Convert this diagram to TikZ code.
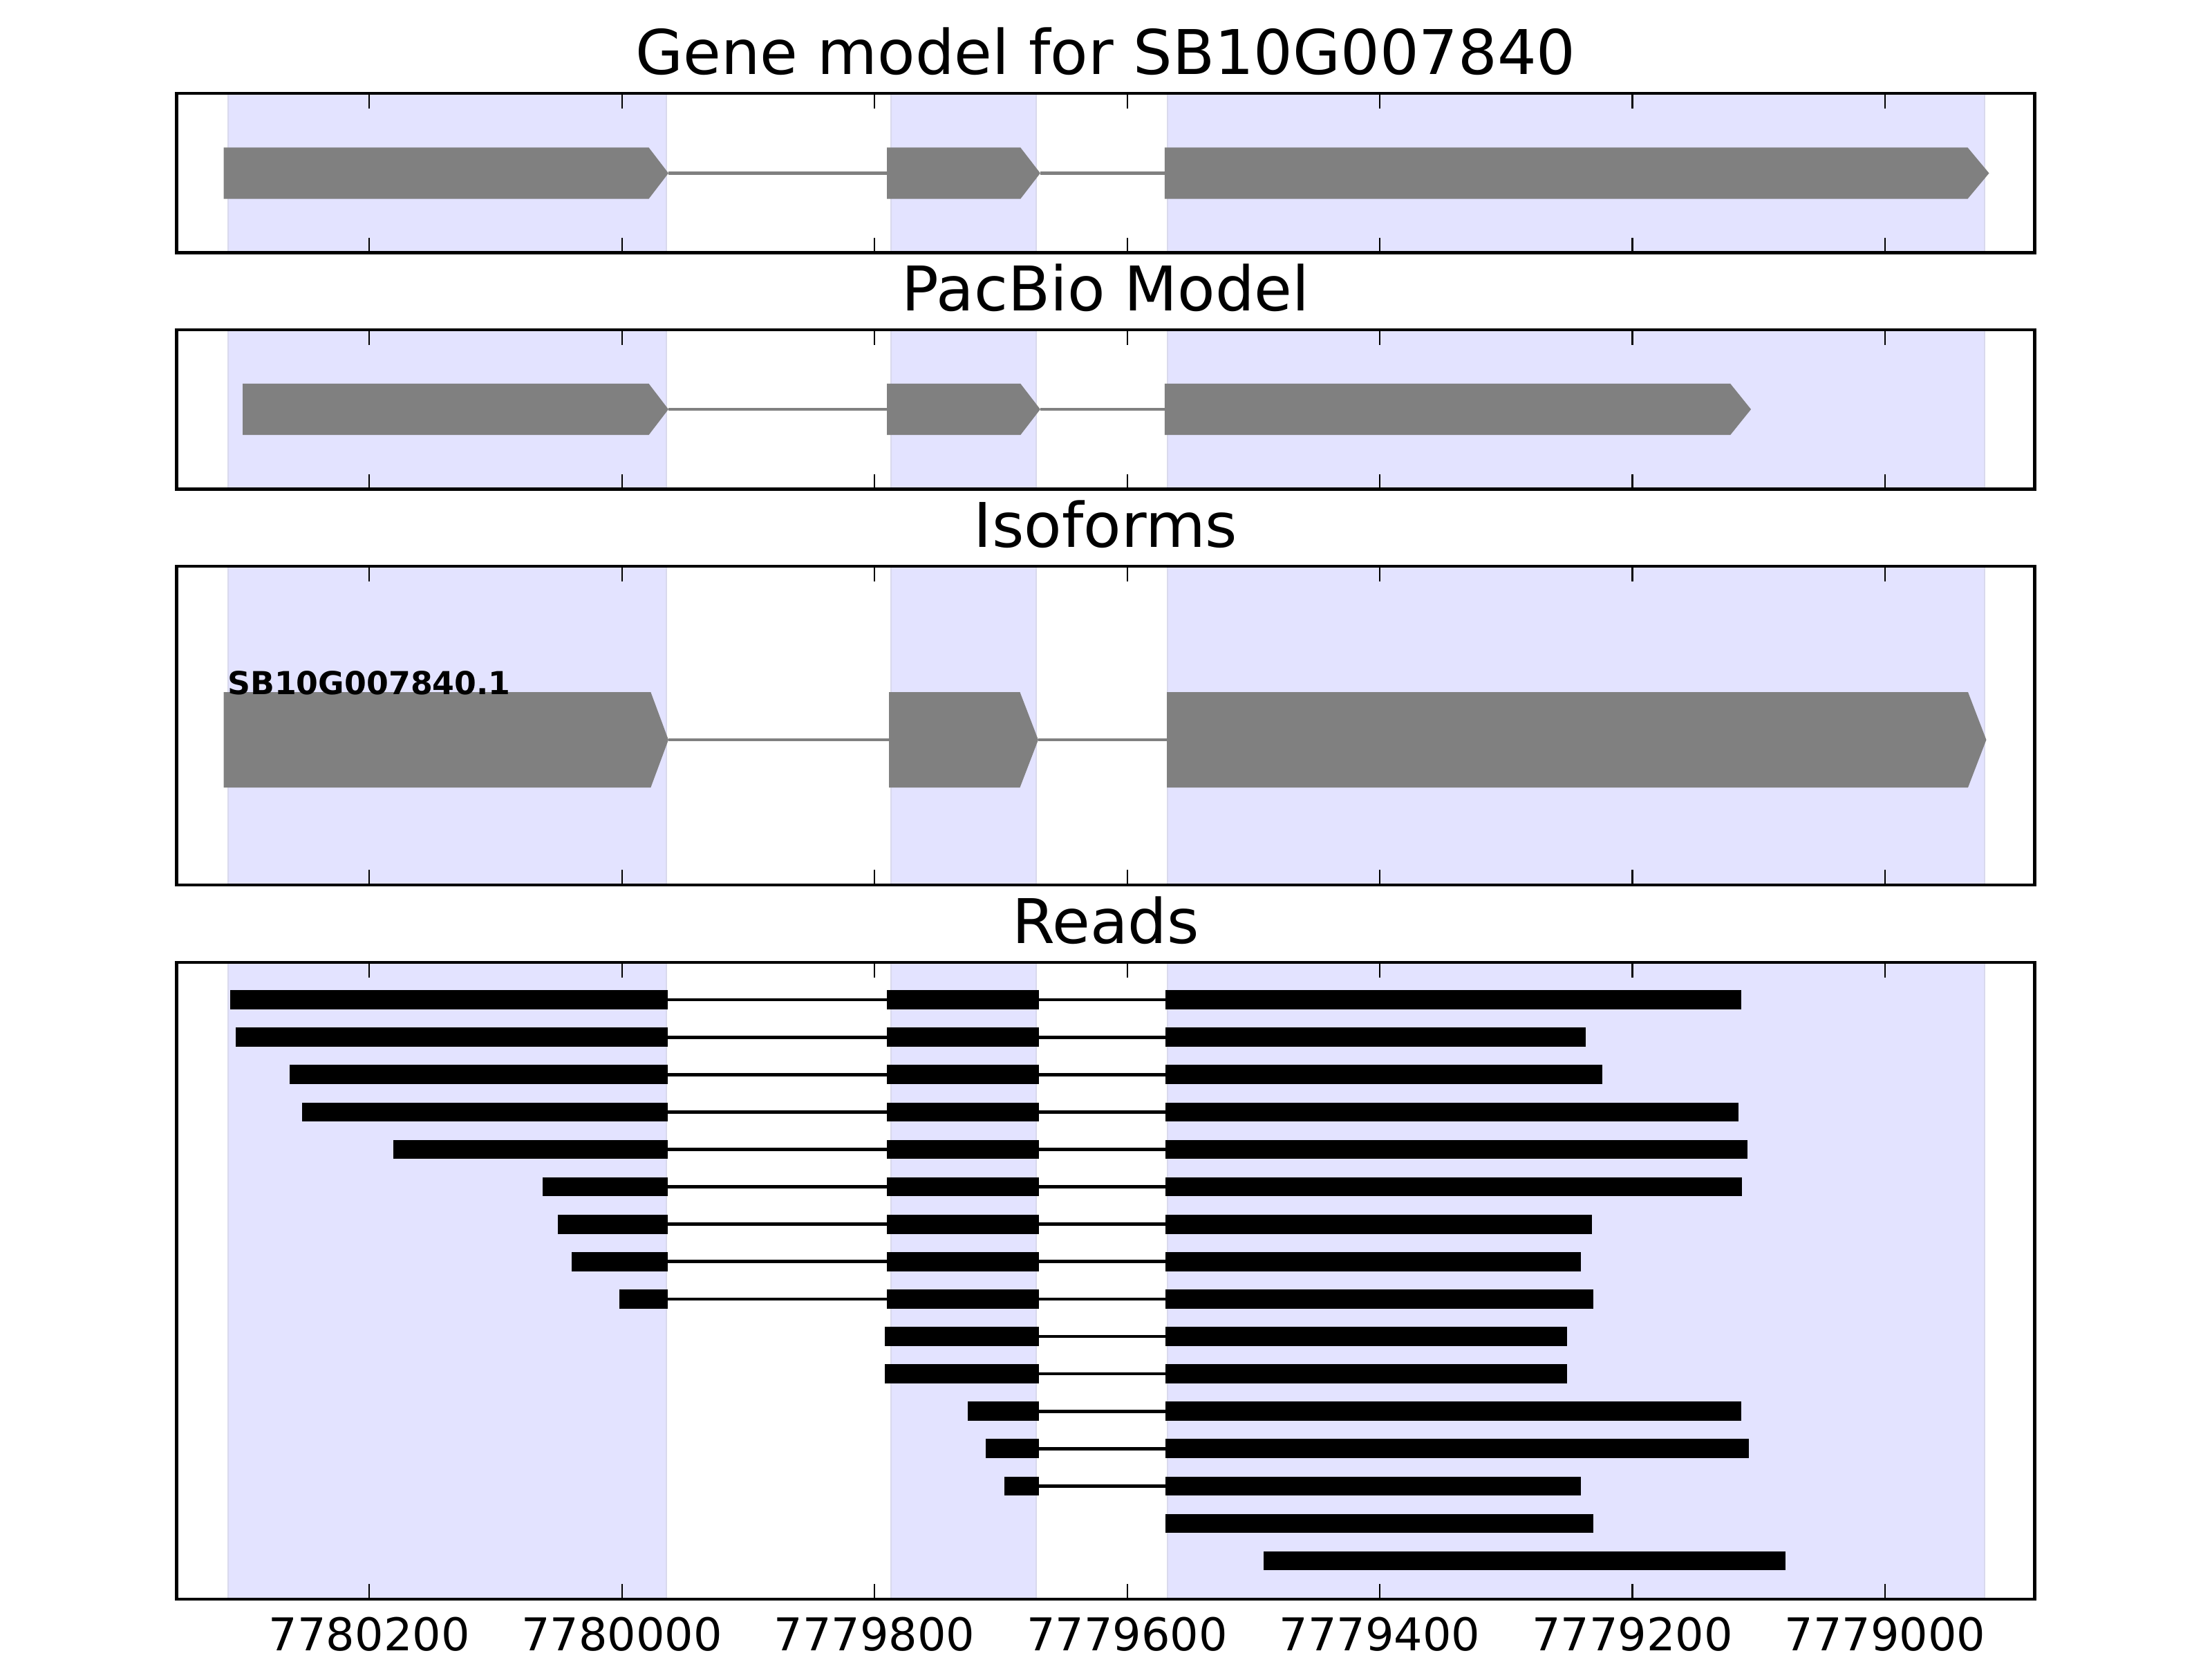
\documentclass[tikz,border=0pt]{standalone}
\usepackage{fontspec}
\setmainfont{DejaVu Sans}
\definecolor{exonblue}{rgb}{0.89,0.89,1}
\definecolor{exonedge}{rgb}{0.85,0.85,0.93}

% exon arrow: left, tip, y, half height, head length
\newcommand{\genearrow}[5]{%
  \fill[genebox] (#1,#3-#4) -- (#2-#5,#3-#4) -- (#2,#3) -- (#2-#5,#3+#4) -- (#1,#3+#4) -- cycle;}

\begin{document}
\begin{tikzpicture}[x=0.33013pt, y=-0.180675pt,
axframe/.style={draw=black, line width=0.85pt},
exonspan/.style={fill=exonblue, draw=exonedge, line width=0.35pt},
tickmark/.style={line width=0.4pt},
genebox/.style={fill=gray},
intron/.style={draw=gray, line width=0.85pt},
readbox/.style={fill=black},
readline/.style={draw=black, line width=0.85pt},
paneltitle/.style={font=\fontsize{16.1}{19}\selectfont, anchor=base, inner sep=0pt},
ticklabel/.style={font=\fontsize{11.8}{14}\selectfont, anchor=north, inner sep=0pt}]
\useasboundingbox (-92.41,0) rectangle (1658.91,2400);

% exon spans in every panel
\foreach \top/\bot in {135/365.5, 477/707.5, 819/1280, 1392/2313}
  \foreach \a/\b in {88/435, 613/728, 832/1479}
    \draw[exonspan] (\a,\top) rectangle (\b,\bot);

% gene model
\draw[intron] (436.8,250.5) -- (609.8,250.5);
\draw[intron] (731.2,250.5) -- (829.7,250.5);
\genearrow{84.7}{436.8}{250.5}{37.2}{15.6}
\genearrow{609.8}{731.2}{250.5}{37.2}{15.7}
\genearrow{829.7}{1482.4}{250.5}{37.2}{17}

% pacbio model
\draw[intron] (436.8,592) -- (609.8,592);
\draw[intron] (731.2,592) -- (829.7,592);
\genearrow{99.7}{436.8}{592}{37.2}{15.6}
\genearrow{609.8}{731.2}{592}{37.2}{15.7}
\genearrow{829.7}{1293.9}{592}{37.2}{16.4}

% isoforms
\draw[intron] (436.8,1070) -- (611.4,1070);
\draw[intron] (729.6,1070) -- (831.4,1070);
\genearrow{84.7}{436.8}{1070}{69}{14}
\genearrow{611.4}{729.6}{1070}{69}{14.5}
\genearrow{831.4}{1480.2}{1070}{69}{14.5}
\node[font=\bfseries\fontsize{8.27}{10}\selectfont, anchor=base west, inner sep=0pt]
  (isolabel) at (87.2,1004) {SB10G007840.1};

% reads with three blocks
\foreach \r/\a/\b [evaluate=\r as \ry using 1446+(\r-1)*54.1] in
  {1/90/1286, 2/94/1163, 3/137/1176, 4/147/1284, 5/219/1291,
   6/337/1287, 7/349/1168, 8/360/1159, 9/398/1169}
{
  \draw[readline] (436,\ry) -- (610,\ry);
  \draw[readline] (730,\ry) -- (830.5,\ry);
  \fill[readbox] (\a,\ry-13.85) rectangle (436,\ry+13.85);
  \fill[readbox] (610,\ry-13.85) rectangle (730,\ry+13.85);
  \fill[readbox] (830.5,\ry-13.85) rectangle (\b,\ry+13.85);
}
% reads with two blocks
\foreach \r/\a/\b [evaluate=\r as \ry using 1446+(\r-1)*54.1] in
  {10/608/1148, 11/608/1148, 12/674/1286, 13/688/1292, 14/703/1159}
{
  \draw[readline] (730,\ry) -- (830.5,\ry);
  \fill[readbox] (\a,\ry-13.85) rectangle (730,\ry+13.85);
  \fill[readbox] (830.5,\ry-13.85) rectangle (\b,\ry+13.85);
}
% single block reads
\foreach \r/\a/\b [evaluate=\r as \ry using 1446+(\r-1)*54.1] in
  {15/830.5/1169, 16/908/1321}
  \fill[readbox] (\a,\ry-13.85) rectangle (\b,\ry+13.85);

% ticks and frames
\foreach \top/\bot in {135/365.5, 477/707.5, 819/1280, 1392/2313}
{
  \foreach \t in {200,400,...,1400}
  {
    \draw[tickmark] (\t,\top) -- ++(0,22);
    \draw[tickmark] (\t,\bot) -- ++(0,-22);
  }
  \draw[axframe] (47.5,\top) rectangle (1518.5,\bot);
}

% titles
\node[paneltitle] (title1) at (783,107.3) {Gene model for SB10G007840};
\node[paneltitle] (title2) at (783,449.3) {PacBio Model};
\node[paneltitle] (title3) at (783,791.3) {Isoforms};
\node[paneltitle] (title4) at (783,1364.3) {Reads};

% axis labels
\foreach \t/\pos in {200/7780200, 400/7780000, 600/7779800, 800/7779600,
  1000/7779400, 1200/7779200, 1400/7779000}
  \node[ticklabel] (lab\t) at (\t,2338) {\pos};
\end{tikzpicture}
\end{document}
